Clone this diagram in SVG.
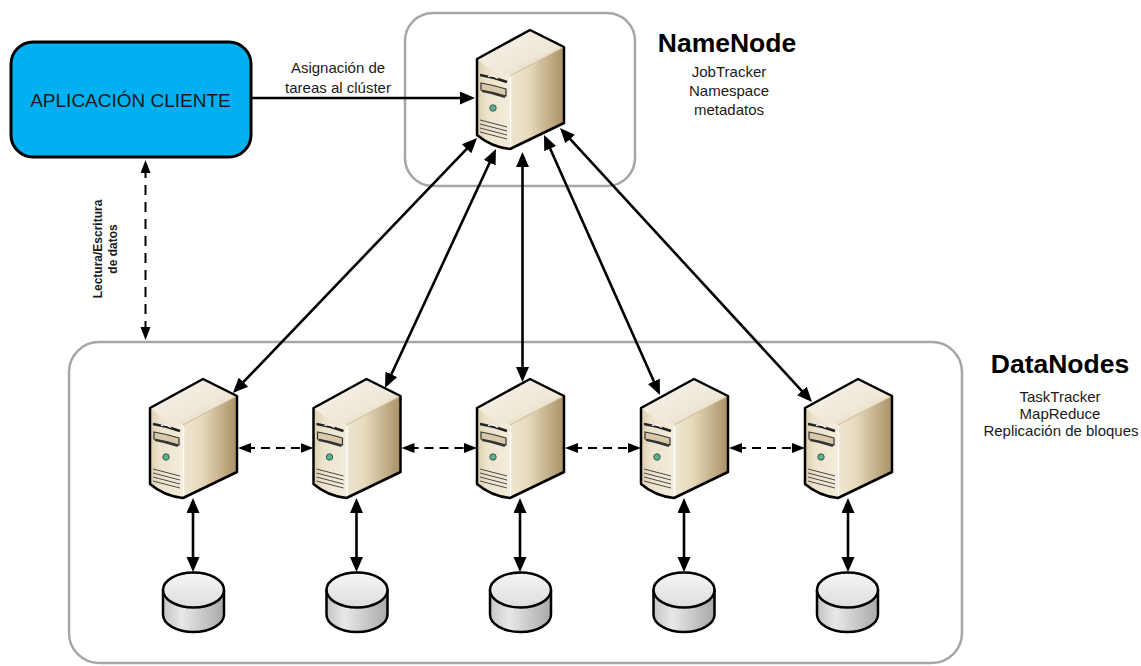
<svg xmlns="http://www.w3.org/2000/svg" xmlns:xlink="http://www.w3.org/1999/xlink" width="1141" height="666" viewBox="0 0 1141 666">
<style>
.grp{fill:none;stroke:#a6a6a6;stroke-width:2.5}
.t{font-family:"Liberation Sans",Arial,sans-serif;fill:#1a1a1a;text-anchor:middle}
.sub{font-size:15px}
.title{font-size:26.5px;font-weight:bold;fill:#000}
.solid{fill:none;stroke:#000;stroke-width:2.6;marker-end:url(#ah);marker-start:url(#ah)}
.dash{fill:none;stroke:#000;stroke-width:2;stroke-dasharray:10 7;marker-end:url(#ahs);marker-start:url(#ahs)}
.ol{stroke:#000;stroke-width:2.5;stroke-linejoin:round}
</style>
<defs>
<marker id="ah" markerUnits="userSpaceOnUse" markerWidth="16" markerHeight="14" refX="7" refY="6.5" orient="auto-start-reverse" viewBox="0 0 16 14">
<path d="M0,0 L15,6.5 L0,13 Z" fill="#000"/>
</marker>
<marker id="ahs" markerUnits="userSpaceOnUse" markerWidth="14" markerHeight="11" refX="5" refY="5" orient="auto-start-reverse" viewBox="0 0 14 11">
<path d="M0,0 L13,5 L0,10 Z" fill="#000"/>
</marker>
<linearGradient id="gSide" x1="0" y1="0" x2="1" y2="0">
<stop offset="0" stop-color="#efe6d2"/>
<stop offset="0.35" stop-color="#e6d9bb"/>
<stop offset="1" stop-color="#a99064"/>
</linearGradient>
<linearGradient id="gTop" x1="0" y1="0" x2="1" y2="1">
<stop offset="0" stop-color="#f8f5ee"/>
<stop offset="0.6" stop-color="#efe8d8"/>
<stop offset="1" stop-color="#d9cba8"/>
</linearGradient>
<linearGradient id="gFront" x1="0" y1="0" x2="1" y2="0">
<stop offset="0" stop-color="#ddcfae"/>
<stop offset="0.3" stop-color="#ede3cc"/>
<stop offset="1" stop-color="#f3ecdc"/>
</linearGradient>
<linearGradient id="gDiskBody" x1="0" y1="0" x2="1" y2="0">
<stop offset="0" stop-color="#c4c4c4"/>
<stop offset="0.3" stop-color="#e8e8e8"/>
<stop offset="1" stop-color="#a9a9a9"/>
</linearGradient>
<linearGradient id="gDiskTop" x1="0" y1="0" x2="0" y2="1">
<stop offset="0" stop-color="#f6f6f6"/>
<stop offset="1" stop-color="#dddddd"/>
</linearGradient>
<g id="server">
<path d="M33,46 L87,17 L87,93 L33,119 Z" fill="url(#gSide)"/>
<path d="M0,29 L53,0 L87,17 L33,46 Q15,41 0,29 Z" fill="url(#gTop)"/>
<path d="M0,29 Q15,41 33,46 L33,119 Q14,117 0,105 Z" fill="url(#gFront)"/>
<path d="M33,46 L87,17" fill="none" stroke="#cdbb94" stroke-width="1"/>
<path d="M33.5,47 L33.5,118" fill="none" stroke="#ffffff" stroke-width="1.3"/>
<path d="M3,45 Q16,47 30,52" fill="none" stroke="#222" stroke-width="2.4"/>
<path d="M11,46.5 Q16,44.5 21,48.5" fill="none" stroke="#fff" stroke-width="1.4"/>
<path d="M4,53 Q16,55 29,59 L29,66 Q16,62 4,60 Z" fill="#d8caa8" stroke="#333" stroke-width="1.2"/>
<path d="M5,61 Q16,63 28,67" fill="none" stroke="#333" stroke-width="2"/>
<circle cx="16" cy="78" r="3.2" fill="#5fae90" stroke="#2f5f4e" stroke-width="1"/>
<path d="M3,90 L30,97 M3,94 L30,101 M3,98 L30,105 M3,102 L30,109" fill="none" stroke="#4a4a4a" stroke-width="1"/>
<path d="M0,29 L53,0 L87,17 L87,93 L33,119 Q14,117 0,105 Z" fill="none" class="ol"/>
</g>
<g id="disk">
<path d="M-30.5,590 L-30.5,614.5 A30.5,17.5 0 0 0 30.5,614.5 L30.5,590 Z" fill="url(#gDiskBody)" class="ol"/>
<ellipse cx="0" cy="590" rx="30.5" ry="17.5" fill="url(#gDiskTop)" class="ol"/>
</g>
</defs>

<g id="datanodes-group">
<rect class="grp" x="69" y="342" width="893" height="321" rx="30"/>
<text class="t title" x="1060" y="373" font-size="26">DataNodes</text>
<text class="t sub" x="1060" y="401.5">TaskTracker</text>
<text class="t sub" x="1060" y="418.5">MapReduce</text>
<text class="t sub" x="1061" y="435.5">Replicación de bloques</text>
</g>

<g id="namenode">
<rect class="grp" x="405" y="13" width="230" height="173" rx="28"/>
<use xlink:href="#server" href="#server" x="477" y="30"/>
<text class="t title" x="727" y="52">NameNode</text>
<text class="t sub" x="729" y="77">JobTracker</text>
<text class="t sub" x="729" y="96">Namespace</text>
<text class="t sub" x="729" y="115">metadatos</text>
</g>

<g id="cliente">
<rect x="11" y="42" width="240" height="115" rx="22" fill="#00b0f0" stroke="#000" stroke-width="3"/>
<text class="t" x="130.5" y="107" font-size="19" fill="#1a1a1a">APLICACIÓN CLIENTE</text>
</g>

<g id="datanode1"><use xlink:href="#server" href="#server" x="150" y="379"/></g>
<g id="datanode2"><use xlink:href="#server" href="#server" x="313.5" y="379"/></g>
<g id="datanode3"><use xlink:href="#server" href="#server" x="477" y="379"/></g>
<g id="datanode4"><use xlink:href="#server" href="#server" x="641" y="379"/></g>
<g id="datanode5"><use xlink:href="#server" href="#server" x="805" y="379"/></g>

<g id="disk1"><use xlink:href="#disk" href="#disk" x="193.5" y="0"/></g>
<g id="disk2"><use xlink:href="#disk" href="#disk" x="357" y="0"/></g>
<g id="disk3"><use xlink:href="#disk" href="#disk" x="520.5" y="0"/></g>
<g id="disk4"><use xlink:href="#disk" href="#disk" x="684" y="0"/></g>
<g id="disk5"><use xlink:href="#disk" href="#disk" x="847.5" y="0"/></g>

<g id="connectors">
<path d="M251,98 L467,98" fill="none" stroke="#000" stroke-width="2.6" marker-end="url(#ah)"/>
<text class="t" x="338" y="73" font-size="15">Asignación de</text>
<text class="t" x="338" y="93" font-size="15">tareas al clúster</text>

<path class="dash" d="M145.5,168 L145.5,332"/>
<text class="t" font-size="12" font-weight="bold" transform="translate(102,249) rotate(-90)">Lectura/Escritura</text>
<text class="t" font-size="12" font-weight="bold" transform="translate(117,249) rotate(-90)">de datos</text>

<path class="solid" d="M238.5,387.2 L471.5,143.8"/>
<path class="solid" d="M388.4,380.7 L492.6,156.3"/>
<path class="solid" d="M522.5,374 L522.5,160"/>
<path class="solid" d="M656.7,387.7 L547.3,142.3"/>
<path class="solid" d="M806.6,396.1 L565.4,133.9"/>

<path class="dash" style="stroke-dasharray:9 6" d="M246,448 L305.5,448"/>
<path class="dash" style="stroke-dasharray:9 6" d="M409.5,448 L469,448"/>
<path class="dash" style="stroke-dasharray:9 6" d="M573,448 L633,448"/>
<path class="dash" style="stroke-dasharray:9 6" d="M737,448 L797,448"/>

<path class="solid" d="M193,506 L193,564"/>
<path class="solid" d="M356.5,506 L356.5,564"/>
<path class="solid" d="M520,506 L520,564"/>
<path class="solid" d="M684,506 L684,564"/>
<path class="solid" d="M848,506 L848,564"/>
</g>
</svg>
